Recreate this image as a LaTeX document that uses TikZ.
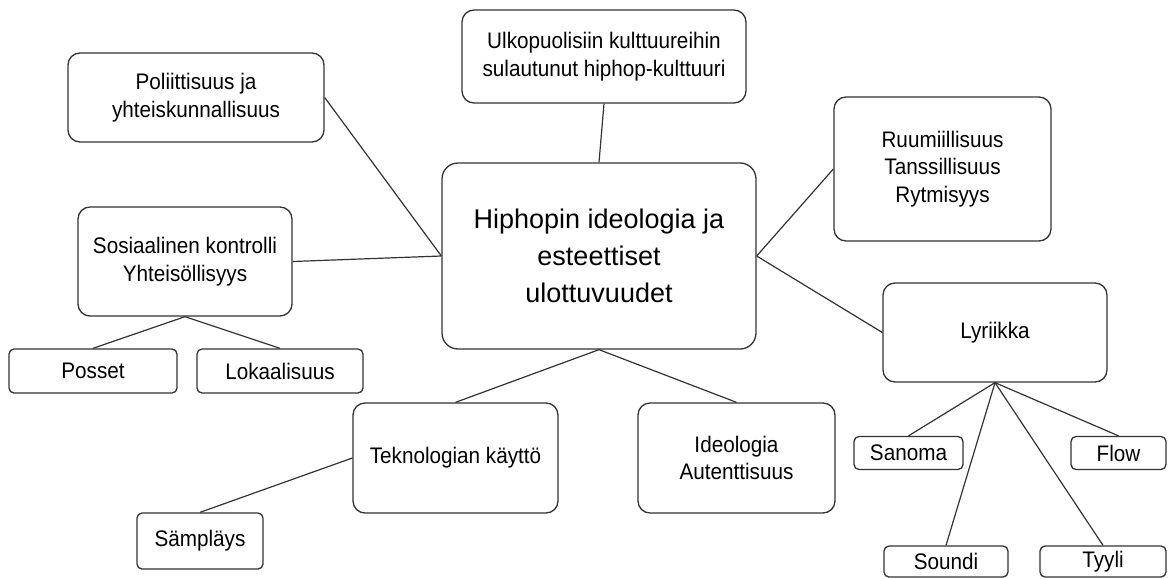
\documentclass[tikz,border=0pt]{standalone}
\usepackage{fontspec}
\setmainfont{Liberation Sans}
\newfontfamily\narrowf{Liberation Sans}[FakeStretch=0.92]
\tikzset{
  box/.style={draw=black!80, line width=1.3pt, rounded corners=12pt, align=center,
    inner sep=0pt, font=\narrowf\fontsize{22.5}{27.5}\selectfont},
  sbox/.style={box, rounded corners=5pt},
  bigbox/.style={box, rounded corners=16pt, font=\fontsize{27}{37}\selectfont},
  link/.style={draw=black!80, line width=1.2pt}
}
\begin{document}
\begin{tikzpicture}[x=1pt,y=-1pt]
\useasboundingbox[fill=white] (0,0) rectangle (1169,578);
% nodes
\node[bigbox, minimum width=314pt, minimum height=186pt] (cen) at (599,256) {Hiphopin ideologia ja\\esteettiset\\ulottuvuudet};
\node[box, minimum width=256pt, minimum height=89pt] (pol) at (196,97.5) {Poliittisuus ja\\yhteiskunnallisuus};
\node[box, minimum width=284pt, minimum height=93pt] (ulk) at (604,56.5) {Ulkopuolisiin kulttuureihin\\sulautunut hiphop-kulttuuri};
\node[box, minimum width=217pt, minimum height=144pt] (ruu) at (942.5,169) {Ruumiillisuus\\Tanssillisuus\\Rytmisyys};
\node[box, minimum width=214pt, minimum height=109pt] (sos) at (185,261.5) {Sosiaalinen kontrolli\\Yhteisöllisyys};
\node[sbox, minimum width=168pt, minimum height=44pt] (pos) at (93,371) {Posset};
\node[sbox, minimum width=166pt, minimum height=44pt] (lok) at (280,371) {Lokaalisuus};
\node[box, minimum width=224pt, minimum height=99pt] (lyr) at (995,332.5) {Lyriikka};
\node[box, minimum width=205pt, minimum height=110pt] (tek) at (455.5,458) {Teknologian käyttö};
\node[box, minimum width=197pt, minimum height=110pt] (ide) at (736.5,458) {Ideologia\\Autenttisuus};
\node[sbox, minimum width=126pt, minimum height=56pt] (sam) at (200,541) {Sämpläys};
\node[sbox, minimum width=109pt, minimum height=33pt] (san) at (908.5,453) {Sanoma};
\node[sbox, minimum width=95pt, minimum height=33pt] (flo) at (1118.5,453) {Flow};
\node[sbox, minimum width=124pt, minimum height=31pt] (sou) at (946,561.5) {Soundi};
\node[sbox, minimum width=126pt, minimum height=31pt] (tyy) at (1103,561.5) {Tyyli};
% connectors
\draw[link] (pol.east) -- (cen.west);
\draw[link] (sos.east) -- (cen.west);
\draw[link] (ulk.south) -- (cen.north);
\draw[link] (cen.east) -- (ruu.west);
\draw[link] (cen.east) -- (lyr.west);
\draw[link] (cen.south) -- (tek.north);
\draw[link] (cen.south) -- (ide.north);
\draw[link] (sos.south) -- (pos.north);
\draw[link] (sos.south) -- (lok.north);
\draw[link] (sam.north) -- (tek.west);
\draw[link] (lyr.south) -- (san.north);
\draw[link] (lyr.south) -- (flo.north);
\draw[link] (lyr.south) -- (sou.north);
\draw[link] (lyr.south) -- (tyy.north);
\end{tikzpicture}
\end{document}
